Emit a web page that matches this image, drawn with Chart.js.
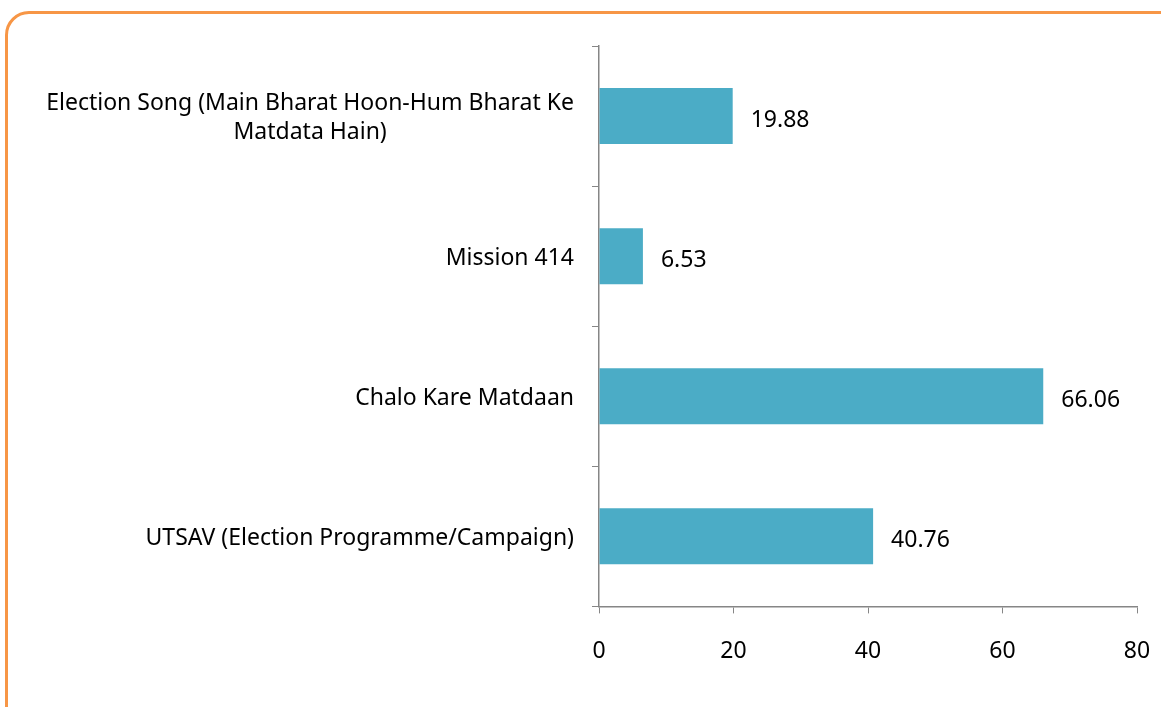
<!DOCTYPE html>
<html><head><meta charset="utf-8">
<script src="https://cdn.jsdelivr.net/npm/chart.js@4/dist/chart.umd.min.js"></script>
<style>
html,body{margin:0;padding:0;background:#fff;overflow:hidden;}
#wrap{position:relative;width:1161px;height:707px;overflow:hidden;}
#frame{position:absolute;left:5px;top:11px;width:1200px;height:760px;border:3.5px solid #F79646;border-radius:24px;box-sizing:border-box;}
canvas{position:absolute;left:0;top:0;}
</style></head>
<body>
<div id="wrap"><div id="frame"></div><canvas id="c" width="1161" height="707"></canvas></div>
<script>
const categories = [
  ["Election Song (Main Bharat Hoon-Hum Bharat Ke", "Matdata Hain)"],
  ["Mission 414"],
  ["Chalo Kare Matdaan"],
  ["UTSAV (Election Programme/Campaign)"]
];
const values = [19.88, 6.53, 66.06, 40.76];
const xTicks = [0, 20, 40, 60, 80];

const FONT = "'Noto Sans', sans-serif";
const FS = 23;

const labelPlugin = {
  id: 'customLabels',
  afterDatasetsDraw(chart) {
    const ctx = chart.ctx;
    const x = chart.scales.x, y = chart.scales.y;
    ctx.save();
    ctx.fillStyle = '#000';
    ctx.font = FS + 'px ' + FONT;
    ctx.textBaseline = 'middle';
    ctx.textAlign = 'left';
    values.forEach((v, i) => {
      ctx.fillText(v.toFixed(2), x.getPixelForValue(v) + 18, y.getPixelForValue(i) + 4);
    });
    categories.forEach((lines, i) => {
      const cy = y.getPixelForValue(i) + 2;
      const lh = 29;
      const widths = lines.map(l => ctx.measureText(l).width);
      const maxW = Math.max(...widths);
      const right = x.left - 25;
      const center = right - maxW / 2;
      ctx.textAlign = 'center';
      lines.forEach((l, k) => {
        const ly = cy + (k - (lines.length - 1) / 2) * lh;
        ctx.fillText(l, center, ly);
      });
    });
    ctx.restore();
  }
};

new Chart(document.getElementById('c'), {
  type: 'bar',
  data: {
    labels: categories,
    datasets: [{
      data: values,
      backgroundColor: '#4BACC6',
      borderWidth: 0,
      categoryPercentage: 1,
      barPercentage: 0.4
    }]
  },
  options: {
    indexAxis: 'y',
    responsive: false,
    animation: false,
    layout: { padding: { left: 592, right: 24, top: 46, bottom: 18 } },
    plugins: { legend: { display: false }, tooltip: { enabled: false } },
    scales: {
      x: {
        min: 0, max: 80,
        afterBuildTicks(s) { s.ticks = xTicks.map(v => ({ value: v })); },
        afterFit(s) { s.paddingLeft = 0; s.paddingRight = 0; },
        grid: { drawOnChartArea: false, color: '#868686', tickLength: 7, tickColor: '#868686' },
        border: { color: '#868686', width: 1.5 },
        ticks: { font: { family: FONT, size: FS }, color: '#000', padding: 24, maxRotation: 0 }
      },
      y: {
        grid: { drawOnChartArea: false, offset: true, tickLength: 7, color: '#868686' },
        border: { color: '#868686', width: 1.5 },
        ticks: { display: false }
      }
    }
  },
  plugins: [labelPlugin]
});
</script>
</body></html>
